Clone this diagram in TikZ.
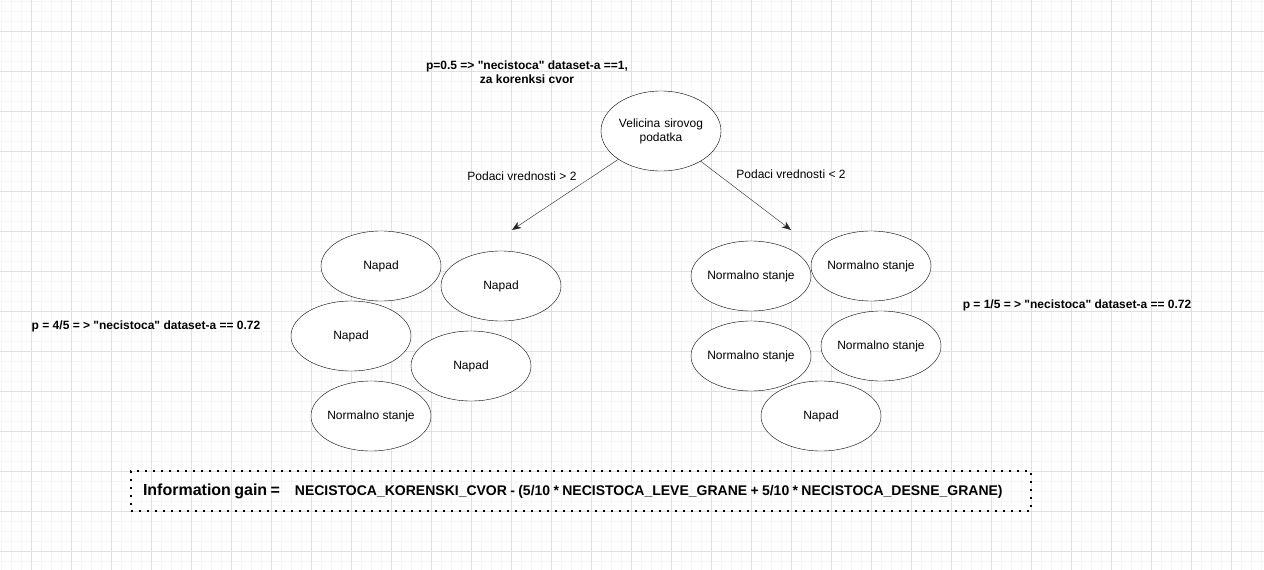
\documentclass[tikz,border=0pt]{standalone}
\usepackage{fontspec}
\setmainfont{Liberation Sans}
\usetikzlibrary{shapes.geometric, arrows.meta}
\newcommand{\dq}{\textquotedbl}
\newcommand{\fitlabel}[1]{\makebox[60pt]{#1}}

\begin{document}
\begin{tikzpicture}[x=1pt, y=-1pt,
  font=\fontsize{12pt}{14pt}\selectfont,
  leaf/.style={ellipse, draw, fill=white, minimum width=120pt, minimum height=70pt, inner sep=0pt, outer sep=0pt},
  note/.style={font=\fontsize{12pt}{14pt}\selectfont\bfseries, align=center},
  edge/.style={draw=black!85, -{Stealth[length=9pt, width=7pt, inset=2.5pt]}},
  gridminor/.style={draw=black!4, line width=1pt},
  gridmajor/.style={draw=black!12, line width=1pt}]
  \useasboundingbox (0,0) rectangle (1264,570);
  \fill[white] (0,0) rectangle (1264,570);

  % background grid
  \foreach \x in {1,11,...,1261} \draw[gridminor] (\x,0) -- (\x,570);
  \foreach \y in {1,11,...,561} \draw[gridminor] (0,\y) -- (1264,\y);
  \foreach \x in {31,71,...,1271} \draw[gridmajor] (\x,0) -- (\x,570);
  \foreach \y in {31,71,...,551} \draw[gridmajor] (0,\y) -- (1264,\y);

  \node (root) [leaf, minimum height=80pt, align=center, text width=60pt] at (661, 131) {\fitlabel{Velicina sirovog}\\podatka};
  \node (root-note) [note] at (527, 72) {p=0.5 => \dq necistoca\dq{} dataset-a ==1,\\za korenksi cvor};

  \coordinate (left-end) at (512, 230);
  \coordinate (right-end) at (791, 230);
  \draw[edge] (root) -- (left-end);
  \draw[edge] (root) -- (right-end);
  \node (left-label) at (522, 176) {Podaci vrednosti > 2};
  \node (right-label) at (791, 174) {Podaci vrednosti < 2};

  % left branch
  \node (napad-1) [leaf] at (381, 266) {Napad};
  \node (napad-2) [leaf] at (501, 286) {Napad};
  \node (napad-3) [leaf] at (351, 336) {Napad};
  \node (napad-4) [leaf] at (471, 366) {Napad};
  \node (normalno-1) [leaf] at (371, 416) {\fitlabel{Normalno stanje}};
  \node (left-note) [note] at (146, 326) {p = 4/5 = > \dq necistoca\dq{} dataset-a == 0.72};

  % right branch
  \node (normalno-2) [leaf] at (751, 276) {\fitlabel{Normalno stanje}};
  \node (normalno-3) [leaf] at (871, 266) {\fitlabel{Normalno stanje}};
  \node (normalno-4) [leaf] at (751, 356) {\fitlabel{Normalno stanje}};
  \node (normalno-5) [leaf] at (881, 346) {\fitlabel{Normalno stanje}};
  \node (napad-5) [leaf] at (821, 416) {Napad};
  \node (right-note) [note] at (1077, 305) {p = 1/5 = > \dq necistoca\dq{} dataset-a == 0.72};

  \node (gain) [draw, line width=2pt, dash pattern=on 2pt off 6pt, minimum width=900pt, minimum height=40pt,
    text width=876pt, inner xsep=12pt, align=left, font=\bfseries] at (581, 491)
    {\raisebox{2.5pt}{\fontsize{16pt}{18pt}\selectfont Information gain =}\hspace{15pt}\raisebox{2.5pt}{\fontsize{14pt}{16pt}\selectfont NECISTOCA\_KORENSKI\_CVOR - (5/10 * NECISTOCA\_LEVE\_GRANE + 5/10 * NECISTOCA\_DESNE\_GRANE)}};
\end{tikzpicture}
\end{document}
